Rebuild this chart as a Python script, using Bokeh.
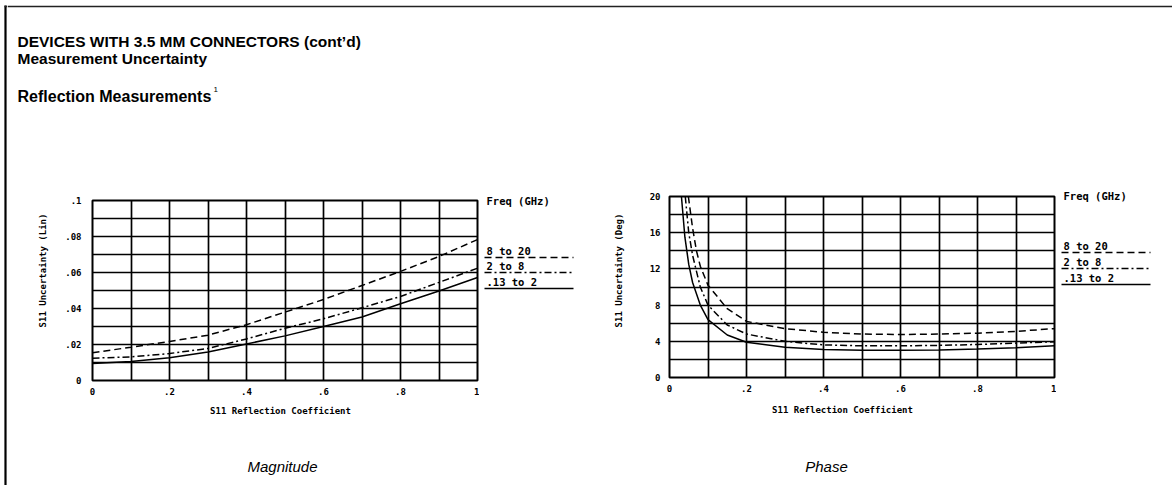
import math
from bokeh.plotting import figure
from bokeh.layouts import row, column
from bokeh.models import Range1d, FixedTicker
from bokeh.core.properties import value
from bokeh.embed import file_html
from bokeh.resources import INLINE

# ---------------- data ----------------
# Magnitude chart (S11 uncertainty, linear) vs S11 reflection coefficient
mag_x = [0.0, 0.1, 0.2, 0.3, 0.4, 0.5, 0.6, 0.7, 0.8, 0.9, 1.0]
mag_13_to_2 = [0.0094, 0.0106, 0.0126, 0.0158, 0.0203, 0.0248, 0.0300, 0.0353, 0.0426, 0.0497, 0.0572]
mag_2_to_8 = [0.0124, 0.0131, 0.0150, 0.0178, 0.0231, 0.0290, 0.0343, 0.0404, 0.0467, 0.0545, 0.0624]
mag_8_to_20 = [0.0154, 0.0185, 0.0217, 0.0252, 0.0310, 0.0380, 0.0450, 0.0528, 0.0606, 0.0689, 0.0783]

# Phase chart (S11 uncertainty, degrees) vs S11 reflection coefficient
ph_x_13_to_2 = [0.031, 0.04, 0.05, 0.06, 0.08, 0.1, 0.15, 0.2, 0.3, 0.4, 0.5, 0.6, 0.7, 0.8, 0.9, 1.0]
ph_13_to_2 = [20.0, 15.5, 12.5, 10.5, 8.0, 6.4, 4.7, 3.9, 3.35, 3.1, 3.0, 3.0, 3.05, 3.15, 3.3, 3.5]
ph_x_2_to_8 = [0.041, 0.05, 0.06, 0.08, 0.1, 0.15, 0.2, 0.3, 0.4, 0.5, 0.6, 0.7, 0.8, 0.9, 1.0]
ph_2_to_8 = [20.0, 16.0, 13.5, 10.0, 8.0, 5.8, 4.8, 4.0, 3.6, 3.5, 3.5, 3.55, 3.65, 3.8, 3.95]
ph_x_8_to_20 = [0.049, 0.06, 0.07, 0.08, 0.1, 0.15, 0.2, 0.3, 0.4, 0.5, 0.6, 0.7, 0.8, 0.9, 1.0]
ph_8_to_20 = [20.0, 16.5, 14.0, 12.3, 10.2, 7.6, 6.2, 5.4, 5.0, 4.8, 4.75, 4.8, 4.9, 5.1, 5.4]

# axes
x_grid = [0.0, 0.1, 0.2, 0.3, 0.4, 0.5, 0.6, 0.7, 0.8, 0.9, 1.0]
x_ticks = [0.0, 0.2, 0.4, 0.6, 0.8, 1.0]
x_tick_labels = ["0", ".2", ".4", ".6", ".8", "1"]
mag_y_grid = [0.0, 0.01, 0.02, 0.03, 0.04, 0.05, 0.06, 0.07, 0.08, 0.09, 0.1]
mag_y_ticks = [0.0, 0.02, 0.04, 0.06, 0.08, 0.1]
mag_y_tick_labels = ["0", ".02", ".04", ".06", ".08", ".1"]
ph_y_grid = [0, 2, 4, 6, 8, 10, 12, 14, 16, 18, 20]
ph_y_ticks = [0, 4, 8, 12, 16, 20]
ph_y_tick_labels = ["0", "4", "8", "12", "16", "20"]

x_title = "S11 Reflection Coefficient"
mag_y_title = "S11 Uncertainty (Lin)"
ph_y_title = "S11 Uncertainty (Deg)"
legend_title = "Freq (GHz)"
series_names = ["8 to 20", "2 to 8", ".13 to 2"]
series_dash = ["7 4", "7 3 2 3", "solid"]

PLOT_FONT = "DejaVu Sans Mono"
HEAD_FONT = "Liberation Sans"

# ---------------- helpers ----------------
ROW_TOP, ROW_BOT = 130, 402          # page y-span of the chart row
TOTAL_H = 485


def blank(x0, x1, y0, y1):
    """Figure whose frame fills it; coordinates are page pixels (y negated)."""
    p = figure(width=x1 - x0, height=y1 - y0, output_backend="svg",
               toolbar_location=None, x_range=Range1d(x0, x1),
               y_range=Range1d(-y1, -y0), min_border=0,
               x_axis_location=None, y_axis_location=None,
               background_fill_color="white", border_fill_color="white",
               frame_align=False)
    p.grid.visible = False
    p.outline_line_color = None
    return p


def txt(p, x, y, s, size, font=PLOT_FONT, style="bold", align="left",
        baseline="middle", angle=0.0):
    p.text(x=[x], y=[-y], text=[s], text_font=value(font),
           text_font_style=style, text_font_size=size, text_color="black",
           text_align=align, text_baseline=baseline, angle=angle)


def seg(p, x0, y0, x1, y1, dash="solid", width=1.4, color="black"):
    p.line([x0, x1], [-y0, -y1], line_color=color, line_width=width,
           line_dash=dash)


def chart(x0, x1, frame_l, frame_r, frame_t, frame_b, y_end, y_grid, y_ticks,
          y_labels, y_std):
    p = figure(width=x1 - x0, height=ROW_BOT - ROW_TOP, output_backend="svg",
               toolbar_location=None, x_range=Range1d(0, 1),
               y_range=Range1d(0, y_end),
               min_border_left=frame_l - x0, min_border_right=x1 - frame_r,
               min_border_top=frame_t - ROW_TOP,
               min_border_bottom=ROW_BOT - frame_b,
               background_fill_color="white", border_fill_color="white",
               frame_align=False)
    p.outline_line_color = "black"
    p.outline_line_width = 2
    p.xaxis.ticker = FixedTicker(ticks=x_ticks)
    p.xaxis.major_label_overrides = {t: l for t, l in zip(x_ticks, x_tick_labels)}
    p.yaxis.ticker = FixedTicker(ticks=y_ticks)
    p.yaxis.major_label_overrides = {t: l for t, l in zip(y_ticks, y_labels)}
    for ax in (p.xaxis, p.yaxis):
        ax.axis_line_color = None
        ax.major_tick_line_color = None
        ax.minor_tick_line_color = None
        ax.major_tick_out = 0
        ax.major_tick_in = 0
        ax.major_label_text_font = PLOT_FONT
        ax.major_label_text_font_style = "bold"
        ax.major_label_text_font_size = "9px"
        ax.major_label_text_color = "black"
    p.xaxis.major_label_standoff = 7
    p.yaxis.major_label_standoff = y_std
    p.xgrid.ticker = FixedTicker(ticks=x_grid)
    p.ygrid.ticker = FixedTicker(ticks=y_grid)
    for g in (p.xgrid, p.ygrid):
        g.grid_line_color = "black"
        g.grid_line_alpha = 1.0
        g.grid_line_width = 1.7
    return p


def legend(p, x0, x1, y_title, y_lines):
    txt(p, x0 + 2, y_title, legend_title, "10.5px")
    for name, dash, yl in zip(series_names, series_dash, y_lines):
        txt(p, x0 + 2, yl - 1, name, "10.5px", baseline="bottom")
        seg(p, x0, yl, x1, yl, dash=dash, width=1.3)


# ---------------- page border ----------------
border = blank(0, 7, 0, TOTAL_H)
seg(border, 5, 5, 5, TOTAL_H, width=2.2)
seg(border, 4, 6, 7, 6, width=1.5, color="#222222")

# ---------------- header ----------------
header = blank(7, 1172, 0, ROW_TOP)
seg(header, 7, 6, 1172, 6, width=1.5, color="#222222")
txt(header, 17, 41, "DEVICES WITH 3.5 MM CONNECTORS (cont\u2019d)", "15.5px",
    font=HEAD_FONT, baseline="alphabetic")
txt(header, 17, 58, "Measurement Uncertainty", "15.5px",
    font=HEAD_FONT, baseline="alphabetic")
txt(header, 17, 96, "Reflection Measurements", "16px",
    font=HEAD_FONT, baseline="alphabetic")
txt(header, 213, 89, "1", "8px", font=HEAD_FONT, style="normal",
    baseline="alphabetic")

# ---------------- chart row ----------------
ylab_m = blank(7, 55, ROW_TOP, ROW_BOT)
txt(ylab_m, 42, 270, mag_y_title, "9px", align="center", angle=math.pi / 2)

pm = chart(55, 479, 92, 477, 200, 380, 0.1, mag_y_grid, mag_y_ticks,
           mag_y_tick_labels, 11)
pm.line(mag_x, mag_8_to_20, line_color="black", line_width=1.5, line_dash=series_dash[0])
pm.line(mag_x, mag_2_to_8, line_color="black", line_width=1.5, line_dash=series_dash[1])
pm.line(mag_x, mag_13_to_2, line_color="black", line_width=1.5)

leg_m = blank(479, 590, ROW_TOP, ROW_BOT)
legend(leg_m, 484, 573, 200, [257, 272, 288])

ylab_p = blank(590, 630, ROW_TOP, ROW_BOT)
txt(ylab_p, 618, 270, ph_y_title, "9px", align="center", angle=math.pi / 2)

pp = chart(630, 1056, 669, 1054, 196, 377, 20, ph_y_grid, ph_y_ticks,
           ph_y_tick_labels, 9)
pp.line(ph_x_8_to_20, ph_8_to_20, line_color="black", line_width=1.5, line_dash=series_dash[0])
pp.line(ph_x_2_to_8, ph_2_to_8, line_color="black", line_width=1.5, line_dash=series_dash[1])
pp.line(ph_x_13_to_2, ph_13_to_2, line_color="black", line_width=1.5)

leg_p = blank(1056, 1172, ROW_TOP, ROW_BOT)
legend(leg_p, 1061, 1150, 195, [252, 268, 284])

# ---------------- bottom: axis titles and captions ----------------
bottom = blank(7, 1172, ROW_BOT, TOTAL_H)
txt(bottom, 280, 410, x_title, "9px", align="center")
txt(bottom, 842, 409, x_title, "9px", align="center")
txt(bottom, 282, 466, "Magnitude", "15px", font=HEAD_FONT, style="italic",
    align="center")
txt(bottom, 826, 466, "Phase", "15px", font=HEAD_FONT, style="italic",
    align="center")

layout = row(border,
             column(header,
                    row(ylab_m, pm, leg_m, ylab_p, pp, leg_p, spacing=0),
                    bottom, spacing=0),
             spacing=0)
open("out.html", "w").write(file_html(layout, INLINE))
